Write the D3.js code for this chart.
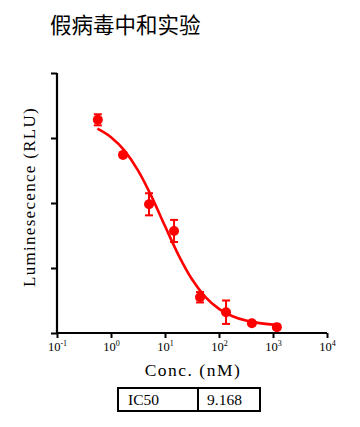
<!DOCTYPE html>
<html><head><meta charset="utf-8">
<script src="https://cdn.jsdelivr.net/npm/d3@7"></script>
<style>body{margin:0;background:#fff}svg{display:block}.sf{font-family:"Liberation Serif","DejaVu Serif",serif}</style>
</head><body>
<svg id="c" width="360" height="427"></svg>
<script>
// Data
const title = "假病毒中和实验";
const concNM = [0.57, 1.67, 5.06, 14.7, 44.5, 135, 406, 1180];
const rlu = [32800, 27400, 19800, 15700, 5500, 3200, 1500, 900];
const rluErr = [850, 300, 1700, 1700, 800, 1800, 300, 300];
// fitted curve samples (read from the drawn fit)
const curveConc = [0.56, 1, 1.78, 3.16, 5.62, 10, 17.8, 31.6, 56.2, 100, 178, 316, 562, 1000, 1260];
const curveRlu = [31430, 30120, 28060, 25020, 21020, 16450, 11990, 8260, 5530, 3710, 2580, 1910, 1520, 1290, 1230];
const xTickExps = [-1, 0, 1, 2, 3, 4];
const yTicks = [0, 10000, 20000, 30000, 40000];
const ic50Label = "IC50";
const ic50Value = "9.168";

const svg = d3.select("#c");
const red = "#ff0000";

const x = d3.scaleLog().domain([0.1, 10000]).range([57, 327]);
const y = d3.scaleLinear().domain([0, 40000]).range([333, 73]);

svg.append("text").attr("x", 50).attr("y", 33)
  .style("font-family", "'Noto Sans CJK SC',sans-serif").attr("font-size", 21.5)
  .attr("fill", "#000").text(title);

// y axis
const ya = svg.append("g").attr("transform", "translate(57,0)")
  .call(d3.axisLeft(y).tickValues(yTicks).tickSize(6).tickFormat(""));
ya.select(".domain").attr("stroke-width", 2.2).attr("d", `M0,${y(0)}V${y(40000)}`);
ya.selectAll(".tick line").attr("stroke-width", 2);

// x axis
const xa = svg.append("g").attr("transform", "translate(0,333)")
  .call(d3.axisBottom(x).tickValues(xTickExps.map(e => Math.pow(10, e))).tickSize(5).tickFormat(""));
xa.select(".domain").attr("stroke-width", 2.2).attr("d", `M${x(0.1)},0H${x(10000)}`);
xa.selectAll(".tick line").attr("stroke-width", 2);
xa.attr("font-family", null);
xa.selectAll(".tick").each(function(d, i) {
  const t = d3.select(this).append("text").attr("class", "sf").attr("y", 18).attr("fill", "#000")
    .attr("font-size", 12.5).attr("text-anchor", "middle");
  t.append("tspan").text("10");
  t.append("tspan").attr("dy", -5).attr("font-size", 8).text(xTickExps[i] < 0 ? "-" + Math.abs(xTickExps[i]) : xTickExps[i]);
});

// axis titles
svg.append("text").attr("class", "sf").attr("x", 193).attr("y", 376).attr("text-anchor", "middle")
  .attr("font-size", 17.5).attr("letter-spacing", 1.5).text("Conc. (nM)");
svg.append("text").attr("class", "sf").attr("transform", "translate(35,197) rotate(-90)").attr("text-anchor", "middle")
  .attr("font-size", 17).attr("letter-spacing", 1.3).text("Luminesecence (RLU)");

// fitted curve
const line = d3.line().x(d => x(d[0])).y(d => y(d[1])).curve(d3.curveMonotoneX);
svg.append("path").attr("d", line(curveConc.map((c, i) => [c, curveRlu[i]])))
  .attr("fill", "none").attr("stroke", red).attr("stroke-width", 2.6);

// error bars and points
const pts = concNM.map((c, i) => ({c, v: rlu[i], e: rluErr[i]}));
const eb = svg.append("g").attr("stroke", red).attr("stroke-width", 2);
pts.forEach(p => {
  const cx = x(p.c);
  eb.append("line").attr("x1", cx).attr("x2", cx).attr("y1", y(p.v - p.e)).attr("y2", y(p.v + p.e));
  eb.append("line").attr("x1", cx - 4).attr("x2", cx + 4).attr("y1", y(p.v - p.e)).attr("y2", y(p.v - p.e));
  eb.append("line").attr("x1", cx - 4).attr("x2", cx + 4).attr("y1", y(p.v + p.e)).attr("y2", y(p.v + p.e));
});
svg.append("g").selectAll("circle").data(pts).join("circle")
  .attr("cx", d => x(d.c)).attr("cy", d => y(d.v)).attr("r", 5).attr("fill", red);

// IC50 table
const tb = svg.append("g");
tb.append("rect").attr("x", 118).attr("y", 388).attr("width", 142).attr("height", 23)
  .attr("fill", "none").attr("stroke", "#000").attr("stroke-width", 2);
tb.append("line").attr("x1", 198).attr("x2", 198).attr("y1", 388).attr("y2", 411)
  .attr("stroke", "#000").attr("stroke-width", 2);
tb.append("text").attr("class", "sf").attr("x", 128).attr("y", 405).attr("font-size", 15.5).text(ic50Label);
tb.append("text").attr("class", "sf").attr("x", 207).attr("y", 405).attr("font-size", 15.5).text(ic50Value);
</script>
</body></html>
